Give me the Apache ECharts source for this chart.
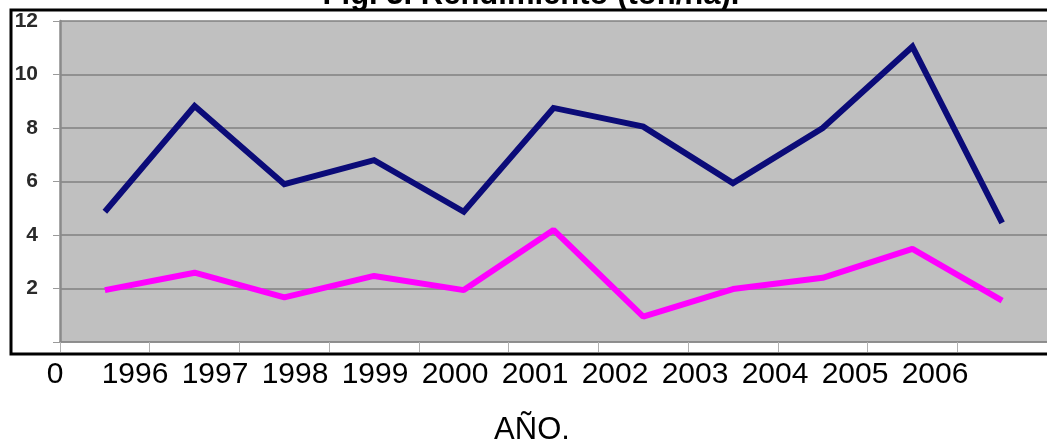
<!DOCTYPE html>
<html>
<head>
<meta charset="utf-8">
<script src="https://cdn.jsdelivr.net/npm/echarts@6/dist/echarts.min.js"></script>
<style>
html,body{margin:0;padding:0;background:#fff;}
#c{width:1047px;height:446px;}
</style>
</head>
<body>
<div id="c"></div>
<script>
var years = ['1996','1997','1998','1999','2000','2001','2002','2003','2004','2005','2006'];
var serieAzul = [4.87, 8.82, 5.9, 6.8, 4.87, 8.75, 8.05, 5.94, 8.0, 11.04, 4.45];
var serieRosa = [1.94, 2.59, 1.67, 2.47, 1.94, 4.19, 0.95, 1.98, 2.4, 3.48, 1.55];
var xTickLabels = ['0','1996','1997','1998','1999','2000','2001','2002','2003','2004','2005','2006'];
var yTicks = [0, 2, 4, 6, 8, 10, 12];
var titleText = 'Fig. 3. Rendimiento (ton/ha).';
var xTitle = 'AÑO.';

var FONT = 'Liberation Sans, Arial, sans-serif';
var chart = echarts.init(document.getElementById('c'), null, {renderer:'canvas'});
chart.setOption({
  animation: false,
  backgroundColor: '#ffffff',
  title: {
    text: titleText,
    left: 531, top: -20, padding: 0,
    textAlign: 'center',
    textStyle: {fontFamily: FONT, fontSize: 31, fontWeight: 'bold', color: '#000'}
  },
  grid: [
    {left: 60, top: 21, width: 990, height: 321, show: true, backgroundColor: '#c0c0c0', borderWidth: 0},
    {left: 15, width: 960, top: 300, height: 42, show: false}
  ],
  xAxis: [
    {
      type: 'category', gridIndex: 0, data: years, boundaryGap: true,
      axisLine: {show: true, lineStyle: {color: '#8a8a8a', width: 1.5}},
      axisTick: {show: true, interval: 0, length: 10, lineStyle: {color: '#b0b0b0', width: 1}},
      axisLabel: {show: false},
      splitLine: {show: false}
    },
    {
      type: 'category', gridIndex: 1, data: xTickLabels, boundaryGap: true,
      axisLine: {show: false}, axisTick: {show: false},
      axisLabel: {show: true, interval: 0, margin: 18, fontFamily: FONT, fontSize: 30, color: '#000'},
      splitLine: {show: false}
    }
  ],
  yAxis: [
    {
      type: 'value', gridIndex: 0, min: yTicks[0], max: yTicks[yTicks.length-1], interval: 2,
      axisLine: {show: true, lineStyle: {color: '#8a8a8a', width: 2.5}},
      axisTick: {show: true, length: 7, lineStyle: {color: '#9a9a9a', width: 1}},
      axisLabel: {
        show: true, margin: 22, fontFamily: FONT, fontSize: 21, fontWeight: 'bold', color: '#2a2a2a',
        formatter: function(v){ return v === 0 ? '' : String(v); }
      },
      splitLine: {show: true, lineStyle: {color: '#808080', width: 1.5}}
    },
    {type: 'value', gridIndex: 1, show: false}
  ],
  graphic: [
    {
      type: 'rect', z: 100, silent: true,
      shape: {x: 11, y: 10, width: 1100, height: 344},
      style: {fill: 'none', stroke: '#000', lineWidth: 3}
    },
    {
      type: 'text', z: 100, silent: true, x: 532, y: 430,
      style: {text: xTitle, fill: '#000', font: '31px ' + FONT, align: 'center', verticalAlign: 'middle'}
    }
  ],
  series: [
    {
      name: 'Serie 1', type: 'line', xAxisIndex: 0, yAxisIndex: 0, data: serieAzul,
      symbol: 'none', lineStyle: {color: '#0b0b78', width: 6, join: 'miter'}, itemStyle: {color: '#0b0b78'}
    },
    {
      name: 'Serie 2', type: 'line', xAxisIndex: 0, yAxisIndex: 0, data: serieRosa,
      symbol: 'none', lineStyle: {color: '#ff00ff', width: 6}, itemStyle: {color: '#ff00ff'}
    }
  ]
});
</script>
</body>
</html>
